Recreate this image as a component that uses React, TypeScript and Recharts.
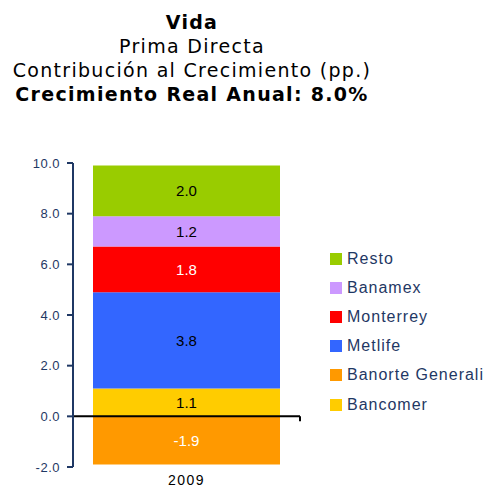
import { BarChart, Bar, XAxis, YAxis, ReferenceLine, LabelList } from 'recharts';

// Contribución al crecimiento (pp.), 2009
const categories = ['2009'];
const banorteGenerali = [-1.9];
const bancomer = [1.1];
const metlife = [3.8];
const monterrey = [1.8];
const banamex = [1.2];
const resto = [2.0];
const yTicks = [-2, 0, 2, 4, 6, 8, 10];

const series = [
  { key: 'banorteGenerali', name: 'Banorte Generali', color: '#FF9900', label: '#FFFFFF', values: banorteGenerali },
  { key: 'bancomer', name: 'Bancomer', color: '#FFCC00', label: '#000000', values: bancomer },
  { key: 'metlife', name: 'Metlife', color: '#3366FF', label: '#000000', values: metlife },
  { key: 'monterrey', name: 'Monterrey', color: '#FF0000', label: '#FFFFFF', values: monterrey },
  { key: 'banamex', name: 'Banamex', color: '#CC99FF', label: '#000000', values: banamex },
  { key: 'resto', name: 'Resto', color: '#99CC00', label: '#000000', values: resto },
];

const legendOrder = ['resto', 'banamex', 'monterrey', 'metlife', 'banorteGenerali', 'bancomer'];

const data = categories.map((c, i) => {
  const row: Record<string, string | number> = { year: c };
  series.forEach(s => { row[s.key] = s.values[i]; });
  return row;
});

const navy = '#1F3864';

export default function App() {
  return (
    <div style={{ position: 'absolute', left: 0, top: 0, width: 486, height: 493, background: '#fff', fontFamily: '"Liberation Sans", Arial, sans-serif' }}>
      <div style={{ position: 'absolute', left: 0, top: 10, width: 384, textAlign: 'center', fontFamily: '"DejaVu Sans", Verdana, sans-serif', fontSize: 19, letterSpacing: 1.3, lineHeight: '24px', color: '#000' }}>
        <div style={{ fontWeight: 'bold' }}>Vida</div>
        <div>Prima Directa</div>
        <div>Contribución al Crecimiento (pp.)</div>
        <div style={{ fontWeight: 'bold' }}>Crecimiento Real Anual: 8.0%</div>
      </div>

      <div style={{ position: 'absolute', left: 0, top: 0 }}>
        <BarChart width={486} height={493} data={data} stackOffset="sign" margin={{ top: 163, right: 186, bottom: 0, left: 0 }}>
          <XAxis
            dataKey="year"
            height={26}
            axisLine={false}
            tickLine={false}
            tickMargin={2}
            tick={{ fill: '#000', fontSize: 14, letterSpacing: 1.5 }}
          />
          <YAxis
            width={73}
            domain={[-2, 10]}
            ticks={yTicks}
            interval={0}
            tickFormatter={(v: number) => v.toFixed(1)}
            axisLine={{ stroke: navy, strokeWidth: 2 }}
            tickLine={{ stroke: navy, strokeWidth: 2 }}
            tickSize={6}
            tickMargin={7}
            tick={{ fill: navy, fontSize: 13, letterSpacing: 0.5 }}
          />
          {series.map(s => (
            <Bar key={s.key} dataKey={s.key} name={s.name} stackId="a" fill={s.color} barSize={187} isAnimationActive={false}>
              <LabelList
                dataKey={s.key}
                position="center"
                formatter={(v: number) => v.toFixed(1)}
                style={{ fill: s.label, fontSize: 15 }}
              />
            </Bar>
          ))}
          <ReferenceLine
            y={0}
            stroke="#000"
            strokeWidth={2}
            shape={(p: any) => (
              <g>
                <line x1={p.x1} y1={p.y1} x2={p.x2} y2={p.y2} stroke="#000" strokeWidth={2} />
                <line x1={p.x2} y1={p.y2} x2={p.x2} y2={p.y2 + 5} stroke="#000" strokeWidth={2} />
              </g>
            )}
          />
        </BarChart>
      </div>

      <div style={{ position: 'absolute', left: 330, top: 244 }}>
        {legendOrder.map(k => {
          const s = series.find(x => x.key === k)!;
          return (
            <div key={k} style={{ display: 'flex', alignItems: 'center', height: 29.2 }}>
              <span style={{ display: 'inline-block', width: 12, height: 12, background: s.color, marginRight: 5 }} />
              <span style={{ fontSize: 16, letterSpacing: 1, color: navy }}>{s.name}</span>
            </div>
          );
        })}
      </div>
    </div>
  );
}
